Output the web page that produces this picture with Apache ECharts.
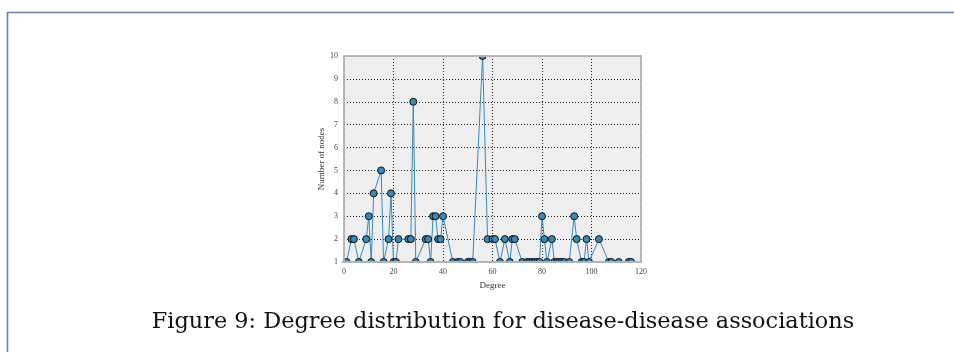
<!DOCTYPE html>
<html>
<head>
<meta charset="utf-8">
<script src="https://cdn.jsdelivr.net/npm/echarts@6/dist/echarts.min.js"></script>
<style>html,body{margin:0;padding:0;background:#fff}#c{width:954px;height:352px}</style>
</head>
<body>
<div id="c"></div>
<script>
// Degree values (x) and number of nodes with that degree (y)
var degrees = [1, 3, 4, 6, 9, 10, 11, 12, 15, 16, 18, 19, 20, 21, 22, 26, 27, 28, 29, 33, 34, 35, 36, 37, 38, 39, 40,
  44, 46, 47, 50, 51, 52, 56, 58, 60, 61, 63, 65, 67, 68, 69, 72, 74, 75, 76, 77, 78, 79, 80, 81, 82, 84,
  85, 86, 87, 88, 89, 91, 93, 94, 96, 97, 98, 99, 103, 107, 108, 111, 115, 116];
var counts = [1, 2, 2, 1, 2, 3, 1, 4, 5, 1, 2, 4, 1, 1, 2, 2, 2, 8, 1, 2, 2, 1, 3, 3, 2, 2, 3,
  1, 1, 1, 1, 1, 1, 10, 2, 2, 2, 1, 2, 1, 2, 2, 1, 1, 1, 1, 1, 1, 1, 3, 2, 1, 2,
  1, 1, 1, 1, 1, 1, 3, 2, 1, 1, 2, 1, 2, 1, 1, 1, 1, 1];
var xTicks = [0, 20, 40, 60, 80, 100, 120];
var yTicks = [1, 2, 3, 4, 5, 6, 7, 8, 9, 10];
var caption = 'Figure 9: Degree distribution for disease-disease associations';

var points = degrees.map(function (d, i) { return [d, counts[i]]; });
var serif = '"Liberation Serif", "DejaVu Serif", serif';
var captionFont = '"DejaVu Serif", "Liberation Serif", serif';

var chart = echarts.init(document.getElementById('c'), null, {renderer: 'canvas'});
var G = {left: 344, top: 56, width: 297, height: 206};

function frameAxis(type, pos) {
  var a = {
    type: 'value', position: pos, gridIndex: 0, z: 5,
    axisLine: {show: true, onZero: false, lineStyle: {color: '#b4b4b4', width: 2, type: [1, 1]}},
    axisTick: {show: false}, axisLabel: {show: false}, splitLine: {show: false}
  };
  if (type === 'x') { a.min = xTicks[0]; a.max = xTicks[xTicks.length - 1]; a.interval = 20; }
  else { a.min = yTicks[0]; a.max = yTicks[yTicks.length - 1]; a.interval = 1; }
  return a;
}

var option = {
  animation: false,
  backgroundColor: '#ffffff',
  grid: {left: G.left, top: G.top, width: G.width, height: G.height, show: true,
    backgroundColor: '#eeeeee', borderWidth: 0, containLabel: false},
  xAxis: [{
    type: 'value', min: xTicks[0], max: xTicks[xTicks.length - 1], interval: 20,
    name: 'Degree', nameLocation: 'middle', nameGap: 14,
    nameTextStyle: {fontFamily: serif, fontSize: 9, color: '#333'},
    axisLine: {show: false}, axisTick: {show: false},
    axisLabel: {fontFamily: serif, fontSize: 8, color: '#444', margin: 6},
    splitLine: {show: true, lineStyle: {color: '#222', width: 1, type: [1, 2]}}
  }, frameAxis('x', 'bottom'), frameAxis('x', 'top')],
  yAxis: [{
    type: 'value', min: yTicks[0], max: yTicks[yTicks.length - 1], interval: 1,
    name: 'Number of nodes', nameLocation: 'middle', nameGap: 18,
    nameTextStyle: {fontFamily: serif, fontSize: 9, color: '#333'},
    axisLine: {show: false}, axisTick: {show: false},
    axisLabel: {fontFamily: serif, fontSize: 8, color: '#444', margin: 6},
    splitLine: {show: true, lineStyle: {color: '#222', width: 1, type: [1, 2]}}
  }, frameAxis('y', 'left'), frameAxis('y', 'right')],
  series: [{
    type: 'line', xAxisIndex: 0, yAxisIndex: 0, data: points, z: 2,
    symbol: 'circle', symbolSize: 7, showSymbol: true,
    lineStyle: {color: '#348ABD', width: 1},
    itemStyle: {color: '#348ABD', borderColor: '#111', borderWidth: 1},
    clip: false
  }],
  graphic: [
    {type: 'rect', z: 3, shape: {x: 341, y: 263, width: 304, height: 4.5}, style: {fill: '#ffffff'}, silent: true},
    {type: 'rect', z: 3, shape: {x: 341, y: 47, width: 304, height: 8}, style: {fill: '#ffffff'}, silent: true},
    {type: 'line', z: 10, shape: {x1: 7, y1: 12.5, x2: 954, y2: 12.5}, style: {stroke: '#6482aa', lineWidth: 1.6}},
    {type: 'line', z: 10, shape: {x1: 7.5, y1: 12, x2: 7.5, y2: 352}, style: {stroke: '#6482aa', lineWidth: 1.6}},
    {type: 'text', z: 10, x: 503, y: 322, style: {text: caption, font: '22.4px ' + captionFont,
      fill: '#111', textAlign: 'center', textVerticalAlign: 'middle'}}
  ]
};
chart.setOption(option);
</script>
</body>
</html>
